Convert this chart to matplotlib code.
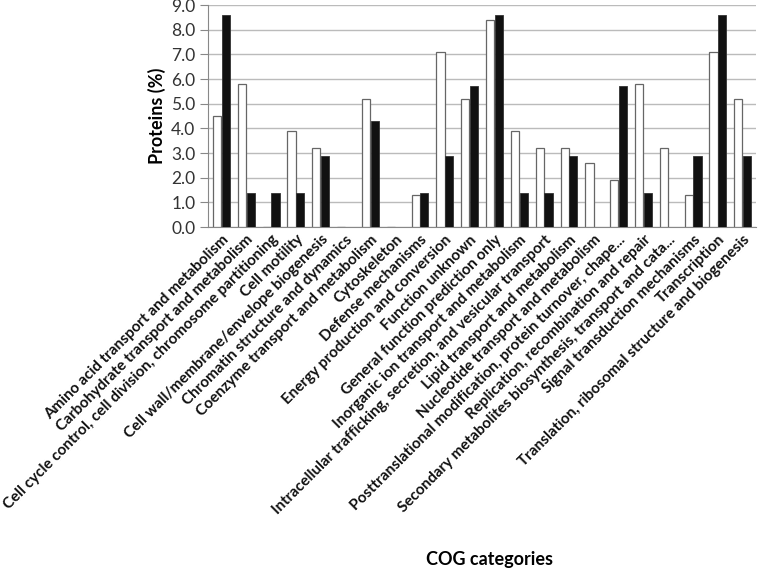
import numpy as np
import matplotlib.pyplot as plt

categories = [
    "Amino acid transport and metabolism",
    "Carbohydrate transport and metabolism",
    "Cell cycle control, cell division, chromosome partitioning",
    "Cell motility",
    "Cell wall/membrane/envelope biogenesis",
    "Chromatin structure and dynamics",
    "Coenzyme transport and metabolism",
    "Cytoskeleton",
    "Defense mechanisms",
    "Energy production and conversion",
    "Function unknown",
    "General function prediction only",
    "Inorganic ion transport and metabolism",
    "Intracellular trafficking, secretion, and vesicular transport",
    "Lipid transport and metabolism",
    "Nucleotide transport and metabolism",
    "Posttranslational modification, protein turnover, chape...",
    "Replication, recombination and repair",
    "Secondary metabolites biosynthesis, transport and cata...",
    "Signal transduction mechanisms",
    "Transcription",
    "Translation, ribosomal structure and biogenesis",
]
white_vals = [4.5, 5.8, 0.0, 3.9, 3.2, 0.0, 5.2, 0.0, 1.3, 7.1, 5.2,
              8.4, 3.9, 3.2, 3.2, 2.6, 1.9, 5.8, 3.2, 1.3, 7.1, 5.2]
black_vals = [8.6, 1.4, 1.4, 1.4, 2.9, 0.0, 4.3, 0.0, 1.4, 2.9, 5.7,
              8.6, 1.4, 1.4, 2.9, 0.0, 5.7, 1.4, 0.0, 2.9, 8.6, 2.9]
yticks = np.arange(0, 9.01, 1.0)

plt.rcParams['font.family'] = ['Lato', 'DejaVu Sans']

fig = plt.figure(figsize=(7.64, 5.69), dpi=100)
ax = fig.add_axes([0.272, 0.601, 0.718, 0.39])

x = np.arange(len(categories))
w = 0.33
ax.bar(x - w / 2 - 0.01, white_vals, w, color='white', edgecolor='#666666', linewidth=0.9, zorder=3)
ax.bar(x + w / 2 + 0.01, black_vals, w, color='#111111', edgecolor='#333333', linewidth=0.6, zorder=3)

ax.set_xlim(-0.55, len(categories) - 0.45)
ax.set_ylim(0, 9.0)
ax.set_yticks(yticks)
ax.set_yticklabels(['%.1f' % v for v in yticks], fontsize=12.5, color='#333333')
ax.yaxis.grid(True, color='#bbbbbb', linewidth=1.0, zorder=0)
ax.tick_params(axis='y', direction='out', length=6, color='#888888', pad=3)
ax.tick_params(axis='x', length=0, pad=4)

ax.set_xticks(x)
ax.set_xticklabels(categories, rotation=45, ha='right', rotation_mode='anchor',
                   fontsize=11, fontweight='bold', color='#111111')

for s in ['top', 'right']:
    ax.spines[s].set_visible(False)
ax.spines['left'].set_color('#888888')
ax.spines['bottom'].set_color('#888888')

ax.set_ylabel('Proteins (%)', fontsize=13, fontweight='bold', labelpad=4)
fig.text(0.641, 0.016, 'COG categories', ha='center', va='center', fontsize=13, fontweight='bold')

fig.savefig('out.png', dpi=100)
